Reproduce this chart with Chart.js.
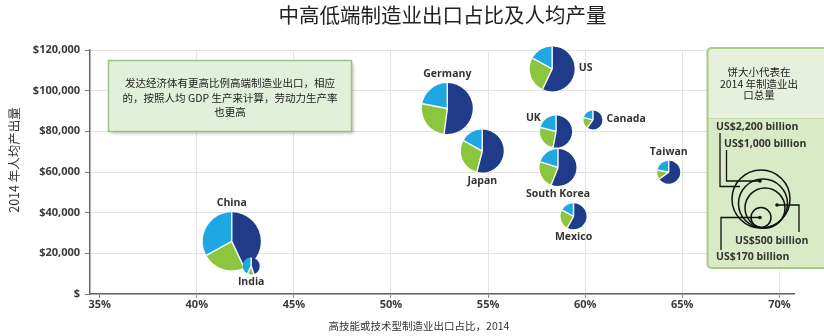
<!DOCTYPE html>
<html lang="zh-CN">
<head>
<meta charset="utf-8">
<title>中高低端制造业出口占比及人均产量</title>
<script src="https://cdn.jsdelivr.net/npm/chart.js@4.4.1/dist/chart.umd.min.js"></script>
<style>
  html, body { margin: 0; padding: 0; background: #fff; }
  #wrap { width: 824px; height: 336px; }
</style>
</head>
<body>
<div id="wrap"><canvas id="mfgChart" width="824" height="336"></canvas></div>
<script>
// economies, one pie each
const countries = ['China', 'India', 'Germany', 'US', 'Japan', 'UK', 'Canada', 'South Korea', 'Taiwan', 'Mexico'];
// high-skill / technology-intensive share of manufacturing exports, %
const hiTechShare = [41.8, 42.8, 52.9, 58.3, 54.7, 58.5, 60.4, 58.6, 64.3, 59.4];
// manufacturing output per worker, 2014, US$
const outputPerWorker = [25900, 13800, 91200, 110700, 70300, 79900, 85600, 62200, 59900, 38200];
// total manufacturing exports, 2014, US$ billion
const exportsBn = [2200, 190, 1690, 1320, 1200, 670, 235, 890, 345, 440];
// export mix, %: high / medium / low end
const highShare = [43, 45, 52, 57, 54, 53, 60, 56, 65, 58];
const mediumShare = [24, 12, 26, 26, 29, 26, 19, 24, 13, 25];
const lowShare = [33, 43, 22, 17, 17, 21, 21, 20, 22, 17];

const xTicks = [35, 40, 45, 50, 55, 60, 65, 70];
const yTicks = [0, 20000, 40000, 60000, 80000, 100000, 120000];

const titleText = '中高低端制造业出口占比及人均产量';
const xTitle = '高技能或技术型制造业出口占比，2014';
const yTitle = '2014 年人均产出量';
const noteLines = ['发达经济体有更高比例高端制造业出口，相应', '的，按照人均 GDP 生产来计算，劳动力生产率', '也更高'];
const keyHeading = ['饼大小代表在', '2014 年制造业出', '口总量'];
const sizeKey = ['US$2,200 billion', 'US$1,000 billion', 'US$500 billion', 'US$170 billion'];

const SANS = "'Open Sans', 'Noto Sans CJK SC', sans-serif";
const CJK = "'Noto Sans CJK SC', 'Open Sans', sans-serif";
const sliceColors = ['#1f3b8a', '#8cc63f', '#1ea7e0'];

// which side of the pie each name sits on
const labelSide = {
  'China': 'top', 'India': 'bottom', 'Germany': 'top', 'US': 'right', 'Japan': 'bottom',
  'UK': 'topleft', 'Canada': 'right', 'South Korea': 'bottom', 'Taiwan': 'top', 'Mexico': 'bottom'
};

const pieRadius = v => 0.62 * Math.sqrt(v);

const points = countries.map((c, i) => ({
  x: hiTechShare[i],
  y: outputPerWorker[i],
  r: pieRadius(exportsBn[i])
}));

// draws each bubble as a three-slice pie plus its name
const pieGlyphs = {
  id: 'pieGlyphs',
  afterDatasetsDraw(chart) {
    const ctx = chart.ctx;
    const meta = chart.getDatasetMeta(0);
    meta.data.forEach((pt, i) => {
      const r = pt.options.radius;
      const parts = [highShare[i], mediumShare[i], lowShare[i]];
      const total = parts.reduce((a, b) => a + b, 0);
      let a0 = -Math.PI / 2;
      ctx.save();
      parts.forEach((p, k) => {
        const a1 = a0 + p / total * Math.PI * 2;
        ctx.beginPath();
        ctx.moveTo(pt.x, pt.y);
        ctx.arc(pt.x, pt.y, r, a0, a1);
        ctx.closePath();
        ctx.fillStyle = sliceColors[k];
        ctx.fill();
        a0 = a1;
      });
      // white separators
      a0 = -Math.PI / 2;
      ctx.strokeStyle = '#fff';
      ctx.lineWidth = 1.4;
      parts.forEach(p => {
        ctx.beginPath();
        ctx.moveTo(pt.x, pt.y);
        ctx.lineTo(pt.x + r * Math.cos(a0), pt.y + r * Math.sin(a0));
        ctx.stroke();
        a0 += p / total * Math.PI * 2;
      });

      ctx.font = 'bold 10.5px ' + SANS;
      ctx.fillStyle = '#333';
      ctx.textBaseline = 'middle';
      const side = labelSide[countries[i]];
      if (side === 'top') {
        ctx.textAlign = 'center';
        ctx.fillText(countries[i], pt.x, pt.y - r - 9);
      } else if (side === 'bottom') {
        ctx.textAlign = 'center';
        ctx.fillText(countries[i], pt.x, pt.y + r + 8);
      } else if (side === 'right') {
        ctx.textAlign = 'left';
        ctx.fillText(countries[i], pt.x + r + 4, pt.y - 1);
      } else {
        ctx.textAlign = 'right';
        ctx.fillText(countries[i], pt.x - r * 0.95, pt.y - r * 0.85);
      }
      ctx.restore();
    });
  },
  afterDraw(chart) {
    const ctx = chart.ctx;
    ctx.save();

    // axis titles
    ctx.fillStyle = '#333';
    ctx.textAlign = 'center';
    ctx.textBaseline = 'middle';
    ctx.font = '10.5px ' + CJK;
    ctx.fillText(xTitle, 419, 326);
    ctx.save();
    ctx.translate(14, 160);
    ctx.rotate(-Math.PI / 2);
    ctx.font = '12.5px ' + CJK;
    ctx.fillText(yTitle, 0, 0);
    ctx.restore();

    // note box
    ctx.save();
    ctx.shadowColor = 'rgba(0,0,0,0.25)';
    ctx.shadowOffsetX = 2;
    ctx.shadowOffsetY = 2;
    ctx.shadowBlur = 3;
    ctx.fillStyle = '#e2efd9';
    ctx.fillRect(108.5, 60.5, 243, 71);
    ctx.restore();
    ctx.strokeStyle = '#9cc47f';
    ctx.lineWidth = 1.5;
    ctx.strokeRect(108.5, 60.5, 243, 71);
    ctx.fillStyle = '#222';
    ctx.font = '10.5px ' + CJK;
    noteLines.forEach((t, k) => ctx.fillText(t, 230, 83.5 + k * 14.2));

    // size key panel
    const px = 707.5, pw = 122, top = 48, mid = 118, bot = 268;
    ctx.fillStyle = '#e6f0dd';
    ctx.fillRect(px, top, pw, mid - top);
    ctx.fillStyle = '#d9eac6';
    ctx.fillRect(px, mid, pw, bot - mid);
    ctx.strokeStyle = '#c2dca9';
    ctx.lineWidth = 1;
    ctx.beginPath();
    ctx.moveTo(px, mid + 0.5);
    ctx.lineTo(px + pw, mid + 0.5);
    ctx.stroke();
    ctx.strokeStyle = '#a6cc86';
    ctx.lineWidth = 2;
    ctx.beginPath();
    ctx.roundRect(px, top, pw, bot - top, 4);
    ctx.stroke();

    ctx.fillStyle = '#222';
    ctx.font = '10.5px ' + CJK;
    keyHeading.forEach((t, k) => ctx.fillText(t, 759, 72 + k * 11.6));

    // nested circles
    ctx.strokeStyle = '#111';
    ctx.lineWidth = 1.5;
    [[761, 199, 29], [763, 203.5, 24.5], [765, 208, 20], [761, 217.5, 10]].forEach(([cx, cy, r]) => {
      ctx.beginPath();
      ctx.arc(cx, cy, r, 0, Math.PI * 2);
      ctx.stroke();
    });
    // leader lines
    ctx.lineWidth = 1.3;
    const leaders = [
      [[720, 133], [720, 186.5], [740, 186.5]],
      [[726.5, 150], [726.5, 181], [760, 181]],
      [[777, 205], [799, 205], [799, 232]],
      [[760, 217.5], [721, 217.5], [721, 250]]
    ];
    leaders.forEach(seg => {
      ctx.beginPath();
      seg.forEach(([x, y], k) => k ? ctx.lineTo(x, y) : ctx.moveTo(x, y));
      ctx.stroke();
    });
    ctx.fillStyle = '#111';
    [[760, 181], [777, 205], [760, 217.5]].forEach(([x, y]) => {
      ctx.beginPath();
      ctx.arc(x, y, 1.8, 0, Math.PI * 2);
      ctx.fill();
    });

    ctx.fillStyle = '#333';
    ctx.font = 'bold 10.5px ' + SANS;
    ctx.textAlign = 'left';
    ctx.fillText(sizeKey[0], 716, 127);
    ctx.fillText(sizeKey[1], 724, 144);
    ctx.fillText(sizeKey[2], 735, 241.5);
    ctx.fillText(sizeKey[3], 716, 257.5);
    ctx.restore();
  }
};

const tickFont = { family: SANS, size: 11, weight: 'bold' };

new Chart(document.getElementById('mfgChart').getContext('2d'), {
  type: 'bubble',
  data: {
    datasets: [{
      data: points,
      backgroundColor: 'rgba(0,0,0,0)',
      borderWidth: 0,
      hoverRadius: 0
    }]
  },
  options: {
    responsive: false,
    animation: false,
    events: [],
    layout: { padding: { right: 24 } },
    plugins: {
      legend: { display: false },
      tooltip: { enabled: false },
      title: {
        display: true,
        fullSize: false,
        text: titleText,
        color: '#222',
        font: { family: CJK, size: 20.5, weight: 'normal', lineHeight: 1.2 },
        padding: { top: 3, bottom: 22.4 }
      }
    },
    scales: {
      x: {
        type: 'linear',
        min: 34.5,
        max: 70.8,
        afterBuildTicks: s => { s.ticks = xTicks.map(v => ({ value: v })); },
        afterFit: s => { s.height = 42; },
        border: { color: '#666', width: 1.5 },
        grid: {
          color: c => (c.tick && c.tick.value === 35) ? 'rgba(0,0,0,0)' : '#e4e4e4',
          tickColor: '#888',
          tickLength: 4
        },
        ticks: {
          callback: v => v + '%',
          color: '#3a3a3a',
          font: tickFont,
          padding: 0,
          maxRotation: 0,
          autoSkip: false
        }
      },
      y: {
        type: 'linear',
        min: 0,
        max: 120000,
        afterBuildTicks: s => { s.ticks = yTicks.map(v => ({ value: v })); },
        afterFit: s => { s.width = 90; },
        border: { color: '#666', width: 1.5 },
        grid: { color: '#e4e4e4', tickColor: '#777', tickLength: 5 },
        ticks: {
          callback: v => v === 0 ? '$' : '$' + v.toLocaleString('en-US'),
          color: '#3a3a3a',
          font: tickFont,
          padding: 5
        }
      }
    }
  },
  plugins: [pieGlyphs]
});
</script>
</body>
</html>
